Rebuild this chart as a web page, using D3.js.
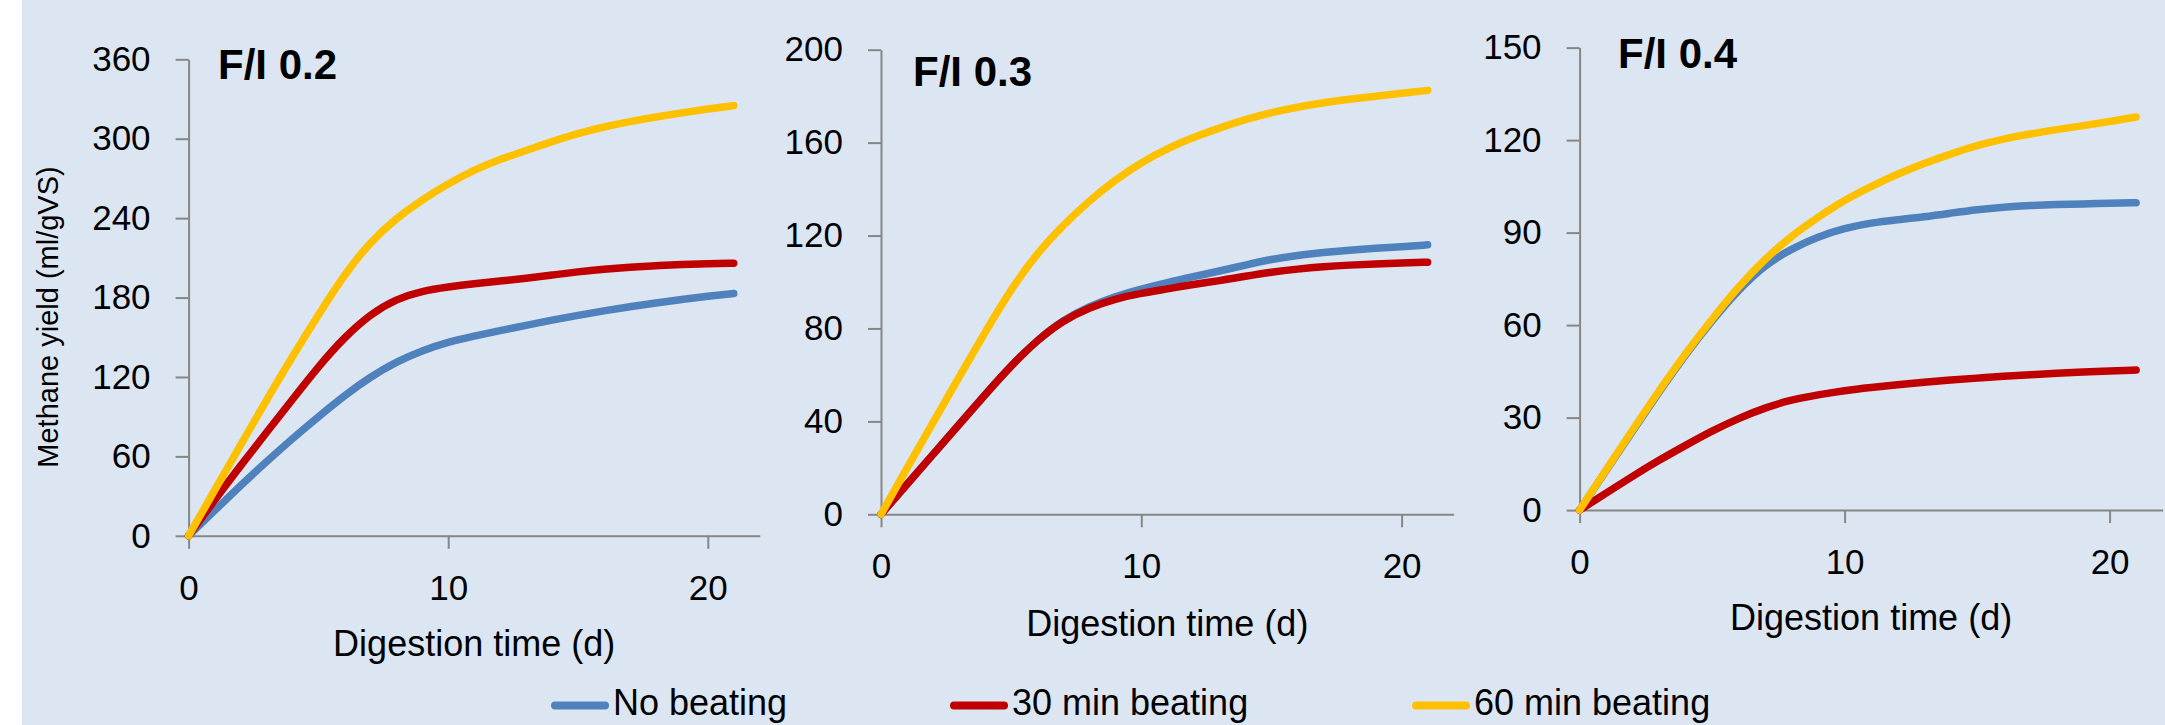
<!DOCTYPE html>
<html><head><meta charset="utf-8">
<script src="https://cdn.jsdelivr.net/npm/d3@7"></script>
<style>
body{margin:0;background:#fff;}
svg{display:block;}
text{font-family:"Liberation Sans",Arial,sans-serif;fill:#000;}
</style>
</head><body>
<svg id="chart" width="2165" height="725"></svg>
<script>
// ---------------- DATA ----------------
const days = [0,1,2,3,4,5,6,7,8,9,10,11,12,13,14,15,16,17,18,19,20,21];
const seriesNames = ["No beating", "30 min beating", "60 min beating"];
const seriesColors = ["#4f81bd", "#c00000", "#ffc000"];
const panelTitles = ["F/I 0.2", "F/I 0.3", "F/I 0.4"];

// F/I 0.2
const fi02NoBeating = [0,19,38,56,73.5,90,106,120,131.5,140,146.5,151,155,159,163,166.5,170,173,176,178.5,181,183];
const fi02Beat30    = [0,27,53,78,103,128,150,167.5,179,185,188,190.5,192.5,194.5,197,199.5,201.5,203,204,205,205.5,206];
const fi02Beat60    = [0,34.3,68.6,102.5,135.5,167,197.5,222,240,254,266,276.5,284.5,291,298,304,309,313,316.5,319.5,322.5,325];
// F/I 0.3
const fi03NoBeating = [0,12.9,25.8,38.7,51.5,64,75,83.7,89.5,93.8,97,99.8,102.3,104.7,107.3,109.8,111.5,112.7,113.7,114.5,115.2,116];
const fi03Beat30    = [0,12.9,25.8,38.7,51.5,64,75,83.5,89,92.8,95.2,97,99,100.5,102.5,104.3,105.6,106.6,107.3,107.8,108.2,108.5];
const fi03Beat60    = [0,20,39.5,59,78.5,97,112.5,124.5,135,144,151.5,157.5,162.3,166.3,170,173,175.3,177.2,178.7,180,181.2,182.5];
// F/I 0.4
const fi04NoBeating = [0,12.8,25.6,38.3,50.5,61.5,71.5,79.5,84.8,88.7,91.4,93.2,94.2,95.1,96.3,97.5,98.3,98.8,99.1,99.3,99.5,99.7];
const fi04Beat30    = [0,5.5,11,16.2,21,25.7,29.8,33.2,35.8,37.4,38.8,39.8,40.7,41.5,42.2,42.8,43.4,43.9,44.4,44.8,45.1,45.4];
const fi04Beat60    = [0,13,26,38.8,50.9,62,72.5,81.5,89,95,100.6,105,109,112.5,115.5,118.3,120.4,122,123.4,124.7,126,127.5];

const yTicks02 = [0,60,120,180,240,300,360];
const yTicks03 = [0,40,80,120,160,200];
const yTicks04 = [0,30,60,90,120,150];
const xTicks = [0,10,20];

const yAxisLabel = "Methane yield (ml/gVS)";
const xAxisLabel = "Digestion time (d)";

// ---------------- LAYOUT ----------------
const svg = d3.select("#chart");
svg.append("rect").attr("x",22).attr("y",0).attr("width",2165-22).attr("height",725).attr("fill","#dce6f2");

const panels = [
  {title:panelTitles[0], series:[fi02NoBeating,fi02Beat30,fi02Beat60], yTicks:yTicks02,
   left:188.6, perDay:25.96, top:59.3, bottom:535.8, titleX:218, titleY:79, xLabelY:656},
  {title:panelTitles[1], series:[fi03NoBeating,fi03Beat30,fi03Beat60], yTicks:yTicks03,
   left:881, perDay:26.03, top:49.7, bottom:514.3, titleX:913, titleY:86, xLabelY:636},
  {title:panelTitles[2], series:[fi04NoBeating,fi04Beat30,fi04Beat60], yTicks:yTicks04,
   left:1579.6, perDay:26.5, top:47.6, bottom:510.1, titleX:1618, titleY:68, xLabelY:630}
];

const axisColor = "#868686";

panels.forEach((p, pi) => {
  const x = d3.scaleLinear().domain([0,22]).range([p.left, p.left + 22*p.perDay]);
  const ymax = p.yTicks[p.yTicks.length-1];
  const y = d3.scaleLinear().domain([0,ymax]).range([p.bottom, p.top]);
  const g = svg.append("g");

  const ya = g.append("g").attr("transform",`translate(${p.left},0)`)
    .call(d3.axisLeft(y).tickValues(p.yTicks).tickSize(13).tickSizeOuter(0).tickPadding(25).tickFormat(d3.format("d")));
  const xa = g.append("g").attr("transform",`translate(0,${p.bottom})`)
    .call(d3.axisBottom(x).tickValues(xTicks).tickSize(13).tickSizeOuter(0).tickPadding(26).tickFormat(d3.format("d")));
  [ya, xa].forEach(a => {
    a.select(".domain").attr("stroke",axisColor).attr("stroke-width",2);
    a.selectAll(".tick line").attr("stroke",axisColor).attr("stroke-width",2);
    a.selectAll(".tick text").attr("font-size",35).attr("fill","#000")
      .style("font-family",'"Liberation Sans",Arial,sans-serif');
  });

  const line = d3.line().x((d,i)=>x(days[i])).y(d=>y(d)).curve(d3.curveBasis);
  p.series.forEach((s, si) => {
    g.append("path").datum(s).attr("d", line)
      .attr("fill","none").attr("stroke",seriesColors[si]).attr("stroke-width",7.5)
      .attr("stroke-linecap","round").attr("stroke-linejoin","round");
  });

  g.append("text").attr("x",p.titleX).attr("y",p.titleY).attr("font-size",42).attr("font-weight","bold").text(p.title);
  g.append("text").attr("x",(x.range()[0]+x.range()[1])/2).attr("y",p.xLabelY)
    .attr("text-anchor","middle").attr("font-size",36).text(xAxisLabel);
});

svg.append("text").attr("transform","translate(58,317) rotate(-90)")
  .attr("text-anchor","middle").attr("font-size",29).text(yAxisLabel);

const legendX = [551, 950, 1412];
seriesNames.forEach((n, i) => {
  svg.append("line").attr("x1",legendX[i]+4).attr("x2",legendX[i]+54).attr("y1",705.5).attr("y2",705.5)
    .attr("stroke",seriesColors[i]).attr("stroke-width",8).attr("stroke-linecap","round");
  svg.append("text").attr("x",legendX[i]+62).attr("y",715).attr("font-size",36).text(n);
});
</script>
</body></html>
